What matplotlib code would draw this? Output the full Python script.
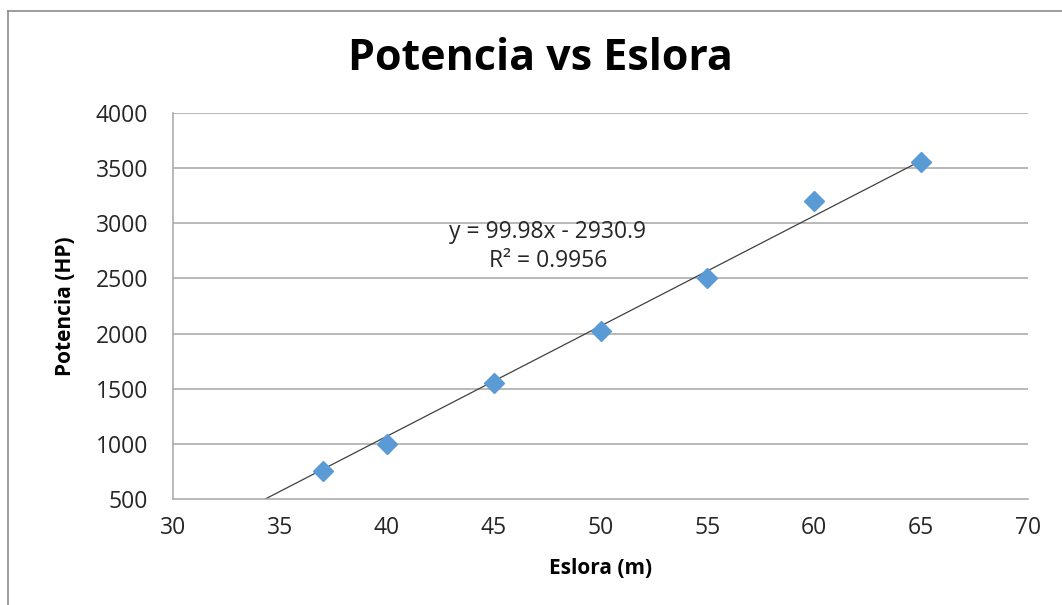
import numpy as np
import matplotlib.pyplot as plt
from matplotlib.lines import Line2D

# datos
eslora = [37, 40, 45, 50, 55, 60, 65]
potencia = [750, 1000, 1550, 2020, 2500, 3200, 3560]
pendiente = 99.98
intercepto = -2930.9
r2 = 0.9956

x_ticks = [30, 35, 40, 45, 50, 55, 60, 65, 70]
y_ticks = [500, 1000, 1500, 2000, 2500, 3000, 3500, 4000]

plt.rcParams['font.family'] = ['Open Sans', 'DejaVu Sans']

fig = plt.figure(figsize=(10.62, 6.05), dpi=100)
ax = fig.add_axes([0.1629, 0.1752, 0.968 - 0.1629, 0.8132 - 0.1752])

# marco exterior (solo izquierda y arriba visibles)
fig.add_artist(Line2D([8 / 1062, 8 / 1062], [0, 1 - 11 / 605], transform=fig.transFigure,
                      color='#8c8c8c', lw=1.2))
fig.add_artist(Line2D([8 / 1062, 1], [1 - 11 / 605, 1 - 11 / 605], transform=fig.transFigure,
                      color='#8c8c8c', lw=1.2))

for y in y_ticks[1:]:
    ax.axhline(y, color='#a6a6a6', lw=1.1, zorder=1)

# linea de tendencia
xt = np.array([30, max(eslora)])
ax.plot(xt, pendiente * xt + intercepto, color='#404040', lw=0.9, zorder=2)

ax.plot(eslora, potencia, linestyle='none', marker='D', ms=10,
        color='#5b9bd5', mec='#5b9bd5', zorder=3)

ax.set_xlim(30, 70)
ax.set_ylim(500, 4000)
ax.set_xticks(x_ticks)
ax.set_yticks(y_ticks)
ax.tick_params(length=0, labelsize=16.5, colors='#262626')
ax.tick_params(axis='y', pad=18)
ax.tick_params(axis='x', pad=12)

for s in ['top', 'right']:
    ax.spines[s].set_visible(False)
for s in ['left', 'bottom']:
    ax.spines[s].set_color('#a6a6a6')
    ax.spines[s].set_linewidth(1.1)

ax.set_xlabel('Eslora (m)', fontsize=15, fontweight='bold', labelpad=13)
ax.set_ylabel('Potencia (HP)', fontsize=15, fontweight='bold', labelpad=14)

fig.text(540 / 1062, 1 - 59 / 605, 'Potencia vs Eslora', fontsize=31, fontweight='bold',
         ha='center', va='center')

ax.text(548 / 1062, 1 - 232 / 605, f'y = {pendiente}x - {abs(intercepto)}', transform=fig.transFigure,
        fontsize=16.5, ha='center', va='center', color='#262626')
ax.text(548 / 1062, 1 - 261 / 605, f'R² = {r2}', transform=fig.transFigure,
        fontsize=16.5, ha='center', va='center', color='#262626')

fig.savefig('out.png', dpi=100)
